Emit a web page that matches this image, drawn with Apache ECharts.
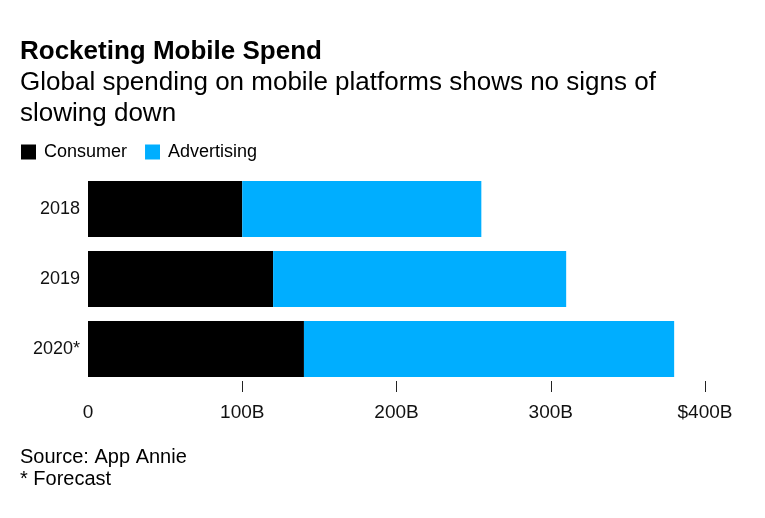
<!DOCTYPE html>
<html>
<head>
<meta charset="utf-8">
<script src="https://cdn.jsdelivr.net/npm/echarts@6/dist/echarts.min.js"></script>
<style>
  html, body { margin: 0; padding: 0; background: #fff; }
  #chart { width: 765px; height: 518px; }
</style>
</head>
<body>
<div id="chart"></div>
<script>
// data, in billions of dollars
var years = ['2018', '2019', '2020*'];
var consumer = [100, 120, 140];
var advertising = [155, 190, 240];
var tickValues = [100, 200, 300, 400];

var font = '"Liberation Sans", Arial, sans-serif';
var myChart = echarts.init(document.getElementById('chart'));

var option = {
    animation: false,
    textStyle: { fontFamily: font },
    title: [
        {
            text: 'Rocketing Mobile Spend',
            left: 20, top: 39, padding: 0,
            textStyle: { fontSize: 26, fontWeight: 'bold', color: '#000', lineHeight: 26, fontFamily: font }
        },
        {
            text: 'Global spending on mobile platforms shows no signs of\nslowing down',
            left: 20, top: 67, padding: 0,
            textStyle: { fontSize: 26, fontWeight: 'normal', color: '#000', lineHeight: 31, fontFamily: font }
        },
        {
            text: 'Source: App Annie\n* Forecast',
            left: 20, top: 446, padding: 0,
            textStyle: { fontSize: 20, fontWeight: 'normal', color: '#000', lineHeight: 22, fontFamily: font }
        }
    ],
    legend: {
        left: 16, top: 138,
        icon: 'rect',
        itemWidth: 15, itemHeight: 15,
        itemGap: 18,
        textStyle: { fontSize: 18, color: '#000', padding: [0, 0, 0, 3], fontFamily: font },
        data: ['Consumer', 'Advertising']
    },
    grid: {
        left: 88, right: 60, top: 174, bottom: 134
    },
    xAxis: {
        type: 'value',
        min: 0, max: 400, interval: 100,
        offset: -3,
        axisLine: { show: false },
        splitLine: { show: false },
        axisTick: {
            show: true, length: 11,
            customValues: tickValues,
            lineStyle: { color: '#222', width: 1 }
        },
        axisLabel: {
            margin: 22,
            fontSize: 19, color: '#111', fontFamily: font,
            formatter: function (v) {
                if (v === 0) return '0';
                return (v === 400 ? '$' : '') + v + 'B';
            }
        }
    },
    yAxis: {
        type: 'category',
        inverse: true,
        data: years,
        axisLine: { show: false },
        axisTick: { show: false },
        axisLabel: { margin: 8, fontSize: 18, color: '#111', fontFamily: font }
    },
    series: [
        {
            name: 'Consumer',
            type: 'bar',
            stack: 'total',
            barWidth: 56,
            itemStyle: { color: '#000000' },
            data: consumer
        },
        {
            name: 'Advertising',
            type: 'bar',
            stack: 'total',
            barWidth: 56,
            itemStyle: { color: '#00AEFF' },
            data: advertising
        }
    ]
};

myChart.setOption(option);
</script>
</body>
</html>
